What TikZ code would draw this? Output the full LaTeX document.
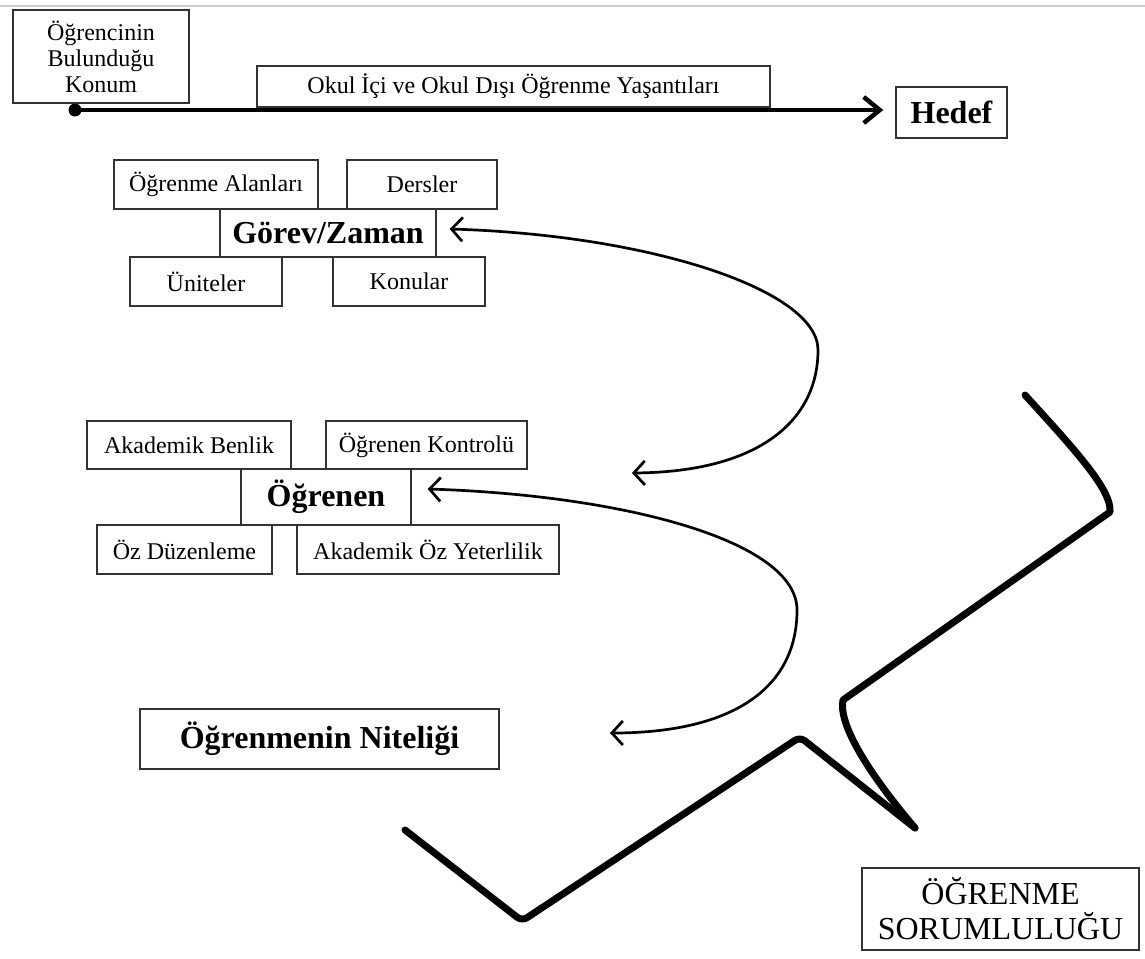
\documentclass[tikz,border=0pt]{standalone}
\usepackage{fontspec}
\setmainfont{Liberation Serif}
\usetikzlibrary{arrows.meta}

\begin{document}
\begin{tikzpicture}[x=1pt, y=-1pt,
  kutu/.style={draw=black!80, line width=1.4pt, inner sep=0pt, align=center,
    font=\fontsize{24}{26}\selectfont},
  kalin/.style={kutu, font=\fontsize{32}{34}\selectfont\bfseries},
  ok/.style={line width=2.7pt,
    {Straight Barb[length=11pt,width=24pt]}-{Straight Barb[length=11pt,width=24pt]}},
  anaok/.style={line width=4.5pt, -{Straight Barb[length=16pt,width=26pt]}},
  cizgi/.style={line width=7pt, line cap=round, line join=round}]
\useasboundingbox (0,0) rectangle (1145,958);
\draw[black!20, line width=1.5pt] (0,6) -- (1145,6);

% baslangic ve hedef
\node[kutu, minimum width=176, minimum height=93] (konum) at (101,56.5) {Öğrencinin\\Bulunduğu\\Konum};
\node[kutu, minimum width=513, minimum height=41, font=\fontsize{24}{26}\selectfont] (yasanti) at (513.5,86.5) {Okul İçi ve Okul Dışı Öğrenme Yaşantıları};
\node[kalin, minimum width=111, minimum height=51] (hedef) at (951.5,112.5) {Hedef};
\node[circle, fill, inner sep=0pt, minimum size=13] (bas) at (75,110) {};
\draw[anaok] (bas.center) -- ([xshift=-12]bas -| hedef.west);

% gorev/zaman
\node[kutu, minimum width=204, minimum height=49] (alan) at (216,184.5) {Öğrenme Alanları};
\node[kutu, minimum width=150, minimum height=49] (ders) at (422,184.5) {Dersler};
\node[kalin, minimum width=216, minimum height=48] (gorev) at (328,233) {Görev/Zaman};
\node[kutu, minimum width=152, minimum height=49] (unite) at (206,281.5) {Üniteler};
\node[kutu, minimum width=152, minimum height=49] (konu) at (409,281.5) {Konular};

% ogrenen
\node[kutu, minimum width=204, minimum height=48] (benlik) at (189,445) {Akademik Benlik};
\node[kutu, minimum width=201, minimum height=48] (kontrol) at (426.5,445) {Öğrenen Kontrolü};
\node[kalin, minimum width=170, minimum height=56] (ogrenen) at (326,497) {Öğrenen};
\node[kutu, minimum width=175, minimum height=49] (duzen) at (184.5,549.5) {Öz Düzenleme};
\node[kutu, minimum width=262, minimum height=49] (yeterlik) at (428,549.5) {Akademik Öz Yeterlilik};

\node[kalin, minimum width=359, minimum height=60] (nitelik) at (319.5,739) {Öğrenmenin Niteliği};
\node[kutu, minimum width=277, minimum height=82, font=\fontsize{32}{35}\selectfont] (sorum) at (1000.5,909) {ÖĞRENME\\SORUMLULUĞU};

% egri oklar
\coordinate (a2) at (632,473);
\coordinate (b2) at (610,733);
\draw[ok] (a2) .. controls (760,472) and (818,420) .. (818,350)
  .. controls (818,290) and (650,235) .. ([shift={(13,-4)}]gorev.east);
\draw[ok] (b2) .. controls (730,733) and (797,690) .. (797,610)
  .. controls (797,540) and (620,495) .. ([shift={(16,-8)}]ogrenen.east);

% sorumluluk cizgisi
\draw[cizgi, rounded corners=6] (405,830) -- (522,921) -- (800,737) -- (915,828);
\draw[cizgi] (1025,395) .. controls (1075,450) and (1112,490) .. (1110,512)
  -- (843,700) .. controls (838,725) and (870,775) .. (915,828);
\end{tikzpicture}
\end{document}
